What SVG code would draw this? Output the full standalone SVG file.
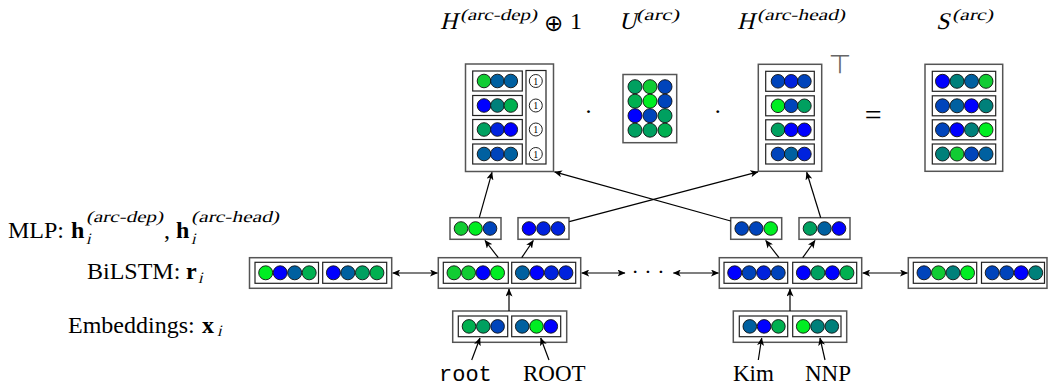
<svg xmlns="http://www.w3.org/2000/svg" width="1048" height="390" viewBox="0 0 1048 390">
<style>
.ob{fill:#fff;stroke:#555;stroke-width:1.5}
.ib{fill:#fff;stroke:#222;stroke-width:1.2}
circle{stroke:#111;stroke-width:0.9}
.c1{fill:#00ee22}.c2{fill:#11cc33}.c3{fill:#00b050}.c4{fill:#00a060}.c5{fill:#00807a}
.c6{fill:#0060a0}.c7{fill:#0044bb}.c8{fill:#0022dd}.c9{fill:#0000ff}
.one{fill:#fff;stroke:#222;stroke-width:1}
.t{font-family:"Liberation Serif",serif;font-size:24px;fill:#000}
.mi{font-family:"Liberation Serif",serif;font-style:normal;fill:#000}
.b{font-weight:bold}
.mono{font-family:"Liberation Mono",monospace;font-size:22px;fill:#000}
.ln{fill:none;stroke:#000;stroke-width:1.2}
</style>
<defs>
<marker id="ah" viewBox="0 0 8 7" refX="7.5" refY="3.5" markerWidth="8" markerHeight="7" markerUnits="userSpaceOnUse" orient="auto-start-reverse">
<path d="M0,0 L8,3.5 L0,7 L2,3.5 z" fill="#000"/>
</marker>
</defs>

<!-- Titles -->
<g id="titles">
<text class="mi" font-size="24" transform="translate(440,29) skewX(-14)">H</text>
<text class="mi" font-size="16" transform="translate(460,20) skewX(-14)" textLength="77" lengthAdjust="spacingAndGlyphs">(arc-dep)</text>
<text x="553.7" y="31" text-anchor="middle" font-family="DejaVu Sans, sans-serif" font-size="23" fill="#000">⊕</text>
<text class="t" x="570" y="29">1</text>
<text class="mi" font-size="24" transform="translate(619,29) skewX(-14)">U</text>
<text class="mi" font-size="16" transform="translate(636,20) skewX(-14)" textLength="43" lengthAdjust="spacingAndGlyphs">(arc)</text>
<text class="mi" font-size="24" transform="translate(737,29) skewX(-14)">H</text>
<text class="mi" font-size="16" transform="translate(757,20) skewX(-14)" textLength="88" lengthAdjust="spacingAndGlyphs">(arc-head)</text>
<text class="mi" font-size="24" transform="translate(936,29) skewX(-14)">S</text>
<text class="mi" font-size="16" transform="translate(952,20) skewX(-14)" textLength="41" lengthAdjust="spacingAndGlyphs">(arc)</text>
</g>

<!-- Left labels -->
<g id="labels">
<text class="t" x="8" y="238">MLP: <tspan class="b" x="71">h</tspan></text>
<text class="mi" font-size="16" transform="translate(86,222) skewX(-14)" textLength="77" lengthAdjust="spacingAndGlyphs">(arc-dep)</text>
<text class="mi" font-size="16" transform="translate(86,244) skewX(-14)">i</text>
<text class="t" x="164" y="238">,</text>
<text class="t b" x="176" y="238">h</text>
<text class="mi" font-size="16" transform="translate(191,222) skewX(-14)" textLength="88" lengthAdjust="spacingAndGlyphs">(arc-head)</text>
<text class="mi" font-size="16" transform="translate(191,244) skewX(-14)">i</text>
<text class="t" x="87" y="279">BiLSTM: <tspan class="b" x="186">r</tspan></text>
<text class="mi" font-size="16" transform="translate(198,283) skewX(-14)">i</text>
<text class="t" x="68" y="333">Embeddings: <tspan class="b" x="202">x</tspan></text>
<text class="mi" font-size="16" transform="translate(217,336) skewX(-14)">i</text>
</g>

<!-- H arc-dep matrix -->
<g id="Hdep">
<rect class="ob" x="465.5" y="64" width="88" height="107.5"/>
<rect class="ib" x="472.7" y="71" width="49.6" height="20"/>
<rect class="ib" x="472.7" y="95.5" width="49.6" height="20"/>
<rect class="ib" x="472.7" y="119.5" width="49.6" height="20"/>
<rect class="ib" x="472.7" y="144" width="49.6" height="20"/>
<circle class="c2" cx="484" cy="81" r="6.8"/><circle class="c6" cx="497.4" cy="81" r="6.8"/><circle class="c6" cx="510.8" cy="81" r="6.8"/>
<circle class="c9" cx="484" cy="105.5" r="6.8"/><circle class="c5" cx="497.4" cy="105.5" r="6.8"/><circle class="c3" cx="510.8" cy="105.5" r="6.8"/>
<circle class="c4" cx="484" cy="129.5" r="6.8"/><circle class="c8" cx="497.4" cy="129.5" r="6.8"/><circle class="c9" cx="510.8" cy="129.5" r="6.8"/>
<circle class="c6" cx="484" cy="154" r="6.8"/><circle class="c7" cx="497.4" cy="154" r="6.8"/><circle class="c6" cx="510.8" cy="154" r="6.8"/>
<rect class="ib" x="526" y="70.5" width="20" height="93.5"/>
<circle class="one" cx="535.8" cy="81" r="6.5"/><text class="t" style="font-size:10px" x="535.8" y="84.5" text-anchor="middle">1</text>
<circle class="one" cx="535.8" cy="105.5" r="6.5"/><text class="t" style="font-size:10px" x="535.8" y="109" text-anchor="middle">1</text>
<circle class="one" cx="535.8" cy="129.5" r="6.5"/><text class="t" style="font-size:10px" x="535.8" y="133" text-anchor="middle">1</text>
<circle class="one" cx="535.8" cy="154" r="6.5"/><text class="t" style="font-size:10px" x="535.8" y="157.5" text-anchor="middle">1</text>
</g>

<text class="t" style="font-size:24px" x="588.5" y="119" text-anchor="middle">·</text>

<!-- U matrix -->
<g id="U">
<rect class="ob" x="623" y="74.5" width="53.7" height="68.2"/>
<circle class="c4" cx="635" cy="86.7" r="7"/><circle class="c2" cx="650" cy="86.7" r="7"/><circle class="c7" cx="665" cy="86.7" r="7"/>
<circle class="c3" cx="635" cy="101.2" r="7"/><circle class="c1" cx="650" cy="101.2" r="7"/><circle class="c7" cx="665" cy="101.2" r="7"/>
<circle class="c9" cx="635" cy="115.7" r="7"/><circle class="c7" cx="650" cy="115.7" r="7"/><circle class="c4" cx="665" cy="115.7" r="7"/>
<circle class="c4" cx="635" cy="130.2" r="7"/><circle class="c4" cx="650" cy="130.2" r="7"/><circle class="c3" cx="665" cy="130.2" r="7"/>
</g>

<text class="t" style="font-size:24px" x="717.7" y="119" text-anchor="middle">·</text>

<!-- H arc-head matrix -->
<g id="Hhead">
<rect class="ob" x="758.3" y="64.3" width="63.4" height="107"/>
<rect class="ib" x="765.7" y="71.3" width="48.6" height="20"/>
<rect class="ib" x="765.7" y="95.8" width="48.6" height="20"/>
<rect class="ib" x="765.7" y="119.8" width="48.6" height="20"/>
<rect class="ib" x="765.7" y="144" width="48.6" height="20"/>
<circle class="c7" cx="778" cy="81.3" r="6.8"/><circle class="c8" cx="791.2" cy="81.3" r="6.8"/><circle class="c7" cx="804.4" cy="81.3" r="6.8"/>
<circle class="c1" cx="778" cy="105.8" r="6.8"/><circle class="c7" cx="791.2" cy="105.8" r="6.8"/><circle class="c4" cx="804.4" cy="105.8" r="6.8"/>
<circle class="c4" cx="778" cy="129.8" r="6.8"/><circle class="c9" cx="791.2" cy="129.8" r="6.8"/><circle class="c9" cx="804.4" cy="129.8" r="6.8"/>
<circle class="c7" cx="778" cy="154" r="6.8"/><circle class="c6" cx="791.2" cy="154" r="6.8"/><circle class="c8" cx="804.4" cy="154" r="6.8"/>
<text x="840" y="73" text-anchor="middle" font-family="DejaVu Sans, sans-serif" font-size="26" fill="#666">⊤</text>
</g>

<text class="t" style="font-size:30px" x="873.3" y="125" text-anchor="middle">=</text>

<!-- S matrix -->
<g id="S">
<rect class="ob" x="925" y="64.3" width="77.7" height="107"/>
<rect class="ib" x="932.3" y="71.3" width="63.4" height="20"/>
<rect class="ib" x="932.3" y="95.8" width="63.4" height="20"/>
<rect class="ib" x="932.3" y="119.8" width="63.4" height="20"/>
<rect class="ib" x="932.3" y="144" width="63.4" height="20"/>
<circle class="c9" cx="942.5" cy="81.3" r="7"/><circle class="c5" cx="957" cy="81.3" r="7"/><circle class="c6" cx="971.5" cy="81.3" r="7"/><circle class="c2" cx="986" cy="81.3" r="7"/>
<circle class="c7" cx="942.5" cy="105.8" r="7"/><circle class="c6" cx="957" cy="105.8" r="7"/><circle class="c9" cx="971.5" cy="105.8" r="7"/><circle class="c5" cx="986" cy="105.8" r="7"/>
<circle class="c7" cx="942.5" cy="129.8" r="7"/><circle class="c9" cx="957" cy="129.8" r="7"/><circle class="c5" cx="971.5" cy="129.8" r="7"/><circle class="c1" cx="986" cy="129.8" r="7"/>
<circle class="c5" cx="942.5" cy="154" r="7"/><circle class="c2" cx="957" cy="154" r="7"/><circle class="c7" cx="971.5" cy="154" r="7"/><circle class="c6" cx="986" cy="154" r="7"/>
</g>

<!-- MLP boxes -->
<g id="mlp1">
<rect class="ob" x="450" y="217.7" width="51" height="21.6"/>
<circle class="c2" cx="461" cy="228.5" r="6.8"/><circle class="c1" cx="475.5" cy="228.5" r="6.8"/><circle class="c7" cx="490" cy="228.5" r="6.8"/>
</g>
<g id="mlp2">
<rect class="ob" x="518" y="217.7" width="51" height="21.6"/>
<circle class="c9" cx="529" cy="228.5" r="6.8"/><circle class="c8" cx="543.5" cy="228.5" r="6.8"/><circle class="c8" cx="558" cy="228.5" r="6.8"/>
</g>
<g id="mlp3">
<rect class="ob" x="730.7" y="217.7" width="51" height="21.6"/>
<circle class="c7" cx="741.7" cy="228.5" r="6.8"/><circle class="c7" cx="756.2" cy="228.5" r="6.8"/><circle class="c1" cx="770.7" cy="228.5" r="6.8"/>
</g>
<g id="mlp4">
<rect class="ob" x="799" y="217.7" width="51" height="21.6"/>
<circle class="c4" cx="810" cy="228.5" r="6.8"/><circle class="c6" cx="824.5" cy="228.5" r="6.8"/><circle class="c9" cx="839" cy="228.5" r="6.8"/>
</g>

<!-- BiLSTM nodes -->
<g id="lstm0">
<rect class="ob" x="249.5" y="257.7" width="142.2" height="30.6"/>
<rect class="ib" x="255" y="262.3" width="63.5" height="21"/>
<rect class="ib" x="322.7" y="262.3" width="64" height="21"/>
<circle class="c1" cx="265.7" cy="272.8" r="7"/><circle class="c9" cx="280.2" cy="272.8" r="7"/><circle class="c6" cx="294.7" cy="272.8" r="7"/><circle class="c3" cx="309.2" cy="272.8" r="7"/>
<circle class="c9" cx="333.4" cy="272.8" r="7"/><circle class="c6" cx="347.9" cy="272.8" r="7"/><circle class="c4" cx="362.4" cy="272.8" r="7"/><circle class="c3" cx="376.9" cy="272.8" r="7"/>
</g>
<g id="lstm1">
<rect class="ob" x="438.3" y="257.7" width="142.4" height="30.6"/>
<rect class="ib" x="443.3" y="262.3" width="65" height="21"/>
<rect class="ib" x="511.7" y="262.3" width="64" height="21"/>
<circle class="c2" cx="454" cy="272.8" r="7"/><circle class="c2" cx="468.5" cy="272.8" r="7"/><circle class="c9" cx="483" cy="272.8" r="7"/><circle class="c1" cx="497.5" cy="272.8" r="7"/>
<circle class="c6" cx="522.4" cy="272.8" r="7"/><circle class="c9" cx="536.9" cy="272.8" r="7"/><circle class="c8" cx="551.4" cy="272.8" r="7"/><circle class="c8" cx="565.9" cy="272.8" r="7"/>
</g>
<g id="dots">
<text class="t" style="font-size:22px" x="648" y="279" text-anchor="middle">· · ·</text>
</g>
<g id="lstm2">
<rect class="ob" x="719.3" y="257.7" width="142.4" height="30.6"/>
<rect class="ib" x="724" y="262.3" width="63.7" height="21"/>
<rect class="ib" x="792.7" y="262.3" width="64" height="21"/>
<circle class="c9" cx="734.7" cy="272.8" r="7"/><circle class="c7" cx="749.2" cy="272.8" r="7"/><circle class="c8" cx="763.7" cy="272.8" r="7"/><circle class="c7" cx="778.2" cy="272.8" r="7"/>
<circle class="c9" cx="803.4" cy="272.8" r="7"/><circle class="c4" cx="817.9" cy="272.8" r="7"/><circle class="c9" cx="832.4" cy="272.8" r="7"/><circle class="c3" cx="846.9" cy="272.8" r="7"/>
</g>
<g id="lstm3">
<rect class="ob" x="908.3" y="257.7" width="138.7" height="30.6"/>
<rect class="ib" x="913.3" y="262.3" width="63.4" height="21"/>
<rect class="ib" x="981.5" y="262.3" width="63" height="21"/>
<circle class="c7" cx="924" cy="272.8" r="7"/><circle class="c2" cx="938.5" cy="272.8" r="7"/><circle class="c5" cx="953" cy="272.8" r="7"/><circle class="c1" cx="967.5" cy="272.8" r="7"/>
<circle class="c7" cx="992.2" cy="272.8" r="7"/><circle class="c7" cx="1006.7" cy="272.8" r="7"/><circle class="c9" cx="1021.2" cy="272.8" r="7"/><circle class="c5" cx="1035.7" cy="272.8" r="7"/>
</g>

<!-- Embedding nodes -->
<g id="emb1">
<rect class="ob" x="452.7" y="311" width="114" height="31.3"/>
<rect class="ib" x="458.3" y="316" width="49.4" height="20.7"/>
<rect class="ib" x="511.7" y="316" width="49" height="20.7"/>
<circle class="c3" cx="469" cy="326.4" r="6.8"/><circle class="c4" cx="483.3" cy="326.4" r="6.8"/><circle class="c7" cx="497.6" cy="326.4" r="6.8"/>
<circle class="c6" cx="522.2" cy="326.4" r="6.8"/><circle class="c1" cx="536.5" cy="326.4" r="6.8"/><circle class="c9" cx="550.8" cy="326.4" r="6.8"/>
</g>
<g id="emb2">
<rect class="ob" x="733.3" y="311" width="113.4" height="31.3"/>
<rect class="ib" x="739.3" y="316" width="48.4" height="20.7"/>
<rect class="ib" x="792.7" y="316" width="48.3" height="20.7"/>
<circle class="c6" cx="749.8" cy="326.4" r="6.8"/><circle class="c9" cx="764.1" cy="326.4" r="6.8"/><circle class="c3" cx="778.4" cy="326.4" r="6.8"/>
<circle class="c1" cx="803.2" cy="326.4" r="6.8"/><circle class="c5" cx="817.5" cy="326.4" r="6.8"/><circle class="c5" cx="831.8" cy="326.4" r="6.8"/>
</g>

<!-- Words -->
<g id="words">
<text class="mono" x="439" y="381">root</text>
<text class="t" style="font-size:23px" x="523" y="381">ROOT</text>
<text class="t" style="font-size:23px" x="733" y="381">Kim</text>
<text class="t" style="font-size:23px" x="805" y="381">NNP</text>
</g>

<!-- Connectors -->
<g id="connectors">
<path class="ln" d="M392.7,273 L437.5,273" marker-start="url(#ah)" marker-end="url(#ah)"/>
<path class="ln" d="M581.7,273 L625,273" marker-start="url(#ah)" marker-end="url(#ah)"/>
<path class="ln" d="M673.3,273 L718.5,273" marker-start="url(#ah)" marker-end="url(#ah)"/>
<path class="ln" d="M862.7,273 L907.5,273" marker-start="url(#ah)" marker-end="url(#ah)"/>
<path class="ln" d="M509,311 L509,289" marker-end="url(#ah)"/>
<path class="ln" d="M790,311 L790,289" marker-end="url(#ah)"/>
<path class="ln" d="M471.7,360 L480,338" marker-end="url(#ah)"/>
<path class="ln" d="M549,360 L540.7,338" marker-end="url(#ah)"/>
<path class="ln" d="M758.3,360 L761.7,338" marker-end="url(#ah)"/>
<path class="ln" d="M825,360 L820,338" marker-end="url(#ah)"/>
<path class="ln" d="M498.3,257.7 L485,240.5" marker-end="url(#ah)"/>
<path class="ln" d="M521.7,257.7 L533.3,240.5" marker-end="url(#ah)"/>
<path class="ln" d="M779,257.7 L765.7,240.5" marker-end="url(#ah)"/>
<path class="ln" d="M802.7,257.7 L815,240.5" marker-end="url(#ah)"/>
<path class="ln" d="M479.3,217.7 L492,172.3" marker-end="url(#ah)"/>
<path class="ln" d="M569.3,221.7 L758,171.8" marker-end="url(#ah)"/>
<path class="ln" d="M730.7,221 L554.5,171.8" marker-end="url(#ah)"/>
<path class="ln" d="M820.7,217.7 L806.7,172.3" marker-end="url(#ah)"/>
</g>
</svg>
